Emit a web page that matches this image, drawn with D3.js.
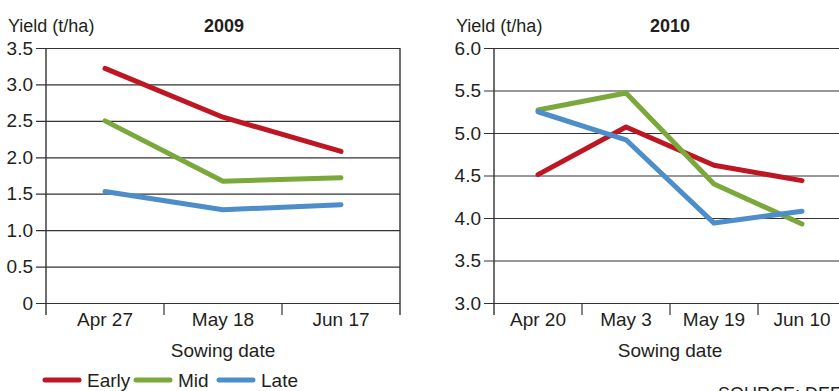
<!DOCTYPE html>
<html>
<head>
<meta charset="utf-8">
<script src="https://cdn.jsdelivr.net/npm/d3@7"></script>
<style>
  body { margin: 0; background: #fff; }
  text { font-family: 'Liberation Sans Narrow', 'Arial Narrow', 'Liberation Sans', sans-serif; fill: #231f20; }
</style>
</head>
<body>
<div id="chart"></div>
<script>
// Data
const series = ['Early', 'Mid', 'Late']
const colors = ['#be1622', '#7aa83a', '#4d8dc9']

const dates2009 = ['Apr 27', 'May 18', 'Jun 17']
const early2009 = [3.22, 2.55, 2.08]
const mid2009 = [2.50, 1.67, 1.72]
const late2009 = [1.53, 1.28, 1.35]
const ticks2009 = ['0', '0.5', '1.0', '1.5', '2.0', '2.5', '3.0', '3.5']

const dates2010 = ['Apr 20', 'May 3', 'May 19', 'Jun 10']
const early2010 = [4.51, 5.07, 4.62, 4.44]
const mid2010 = [5.27, 5.47, 4.40, 3.93]
const late2010 = [5.25, 4.92, 3.94, 4.08]
const ticks2010 = ['3.0', '3.5', '4.0', '4.5', '5.0', '5.5', '6.0']

const W = 839, H = 391

const svg = d3.select('#chart')
  .append('svg')
  .attr('width', W)
  .attr('height', H)

function panel(opt) {
  const m = opt.m
  const g = svg.append('g')

  const x = d3.scaleBand().domain(opt.dates).range([m.left, m.right]).padding(0)
  const yVals = opt.ticks.map(Number)
  const y = d3.scaleLinear().domain(d3.extent(yVals)).range([m.bottom, m.top])

  // gridlines + y ticks
  const yAxis = d3.axisLeft(y)
    .tickValues(yVals)
    .tickFormat((d, i) => opt.ticks[i])
    .tickSize(-(m.right - m.left))
    .tickPadding(14)
  const ya = g.append('g')
    .attr('transform', `translate(${m.left},0)`)
    .call(yAxis)
  ya.select('.domain').remove()
  ya.selectAll('.tick line')
    .attr('x1', -10)
    .attr('stroke', '#333')
    .attr('stroke-width', 1.2)
  ya.selectAll('.tick text')
    .attr('x', -13)
    .style('font-size', '19px')
    .style('font-family', null)
    .attr('fill', '#231f20')

  // left axis line and right border
  g.append('line')
    .attr('x1', m.left).attr('x2', m.left)
    .attr('y1', m.top).attr('y2', m.bottom + 12)
    .attr('stroke', '#333').attr('stroke-width', 1.4)
  g.append('line')
    .attr('x1', m.right).attr('x2', m.right)
    .attr('y1', m.top).attr('y2', m.bottom + 12)
    .attr('stroke', '#333').attr('stroke-width', 1.4)

  // x ticks at band edges
  const edges = opt.dates.map(d => x(d)).slice(1)
  g.selectAll('.xedge')
    .data(edges).enter()
    .append('line')
    .attr('x1', d => d).attr('x2', d => d)
    .attr('y1', m.bottom).attr('y2', m.bottom + 12)
    .attr('stroke', '#333').attr('stroke-width', 1.2)

  // x labels
  const xa = g.append('g')
    .attr('transform', `translate(0,${m.bottom})`)
    .call(d3.axisBottom(x).tickSize(0).tickPadding(10))
  xa.select('.domain').remove()
  xa.selectAll('.tick text')
    .style('font-size', '19px')
    .style('font-family', null)
    .attr('fill', '#231f20')

  g.append('text')
    .attr('x', (m.left + Math.min(m.right, 846)) / 2 + opt.xtOff)
    .attr('y', m.bottom + 54)
    .attr('text-anchor', 'middle')
    .style('font-size', '19px')
    .text('Sowing date')

  g.append('text')
    .attr('x', opt.ylabX)
    .attr('y', 32)
    .style('font-size', '18px')
    .text('Yield (t/ha)')

  g.append('text')
    .attr('x', opt.titleX)
    .attr('y', 32)
    .attr('text-anchor', 'middle')
    .style('font-size', '18px')
    .style('font-weight', 'bold')
    .text(opt.title)

  const line = d3.line()
    .x((d, i) => x(opt.dates[i]) + x.bandwidth() / 2)
    .y(d => y(d))

  opt.data.forEach((vals, k) => {
    g.append('path')
      .datum(vals)
      .attr('d', line)
      .attr('fill', 'none')
      .attr('stroke', colors[k])
      .attr('stroke-width', 5)
      .attr('stroke-linecap', 'round')
      .attr('stroke-linejoin', 'round')
  })
}

panel({
  m: { left: 46, right: 400, top: 48, bottom: 303 },
  dates: dates2009, ticks: ticks2009,
  data: [early2009, mid2009, late2009],
  title: '2009', titleX: 224, ylabX: 8, xtOff: 0
})

panel({
  m: { left: 494, right: 846, top: 48, bottom: 303 },
  dates: dates2010, ticks: ticks2010,
  data: [early2010, mid2010, late2010],
  title: '2010', titleX: 670, ylabX: 456, xtOff: 0
})

// Legend
const legend = svg.append('g').attr('transform', 'translate(45,380)')
const lx = [0, 91, 174]
series.forEach((s, i) => {
  legend.append('line')
    .attr('x1', lx[i]).attr('x2', lx[i] + 34)
    .attr('y1', 0).attr('y2', 0)
    .attr('stroke', colors[i])
    .attr('stroke-width', 5)
    .attr('stroke-linecap', 'round')
  legend.append('text')
    .attr('x', lx[i] + 42)
    .attr('y', 7)
    .style('font-size', '19px')
    .text(s)
})

svg.append('text')
  .attr('x', 718)
  .attr('y', 400)
  .style('font-size', '18px')
  .text('SOURCE: DEFRA')
</script>
</body>
</html>
